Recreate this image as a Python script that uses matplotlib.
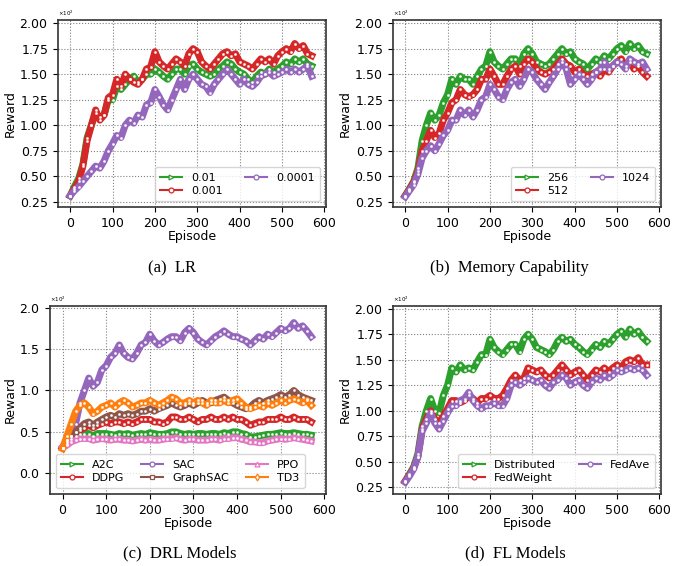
import matplotlib
matplotlib.use("Agg")
import matplotlib.pyplot as plt
import numpy as np
from matplotlib.ticker import ScalarFormatter

episodes = list(range(0, 580, 10))

# (a) LR
lr_labels = ["0.01", "0.001", "0.0001"]
lr_001 = [31, 40, 48, 62, 88, 100, 112, 108, 110, 125, 125, 138, 135, 140, 145, 148, 142, 145, 150, 150,
          155, 152, 148, 145, 150, 155, 155, 150, 158, 160, 155, 152, 150, 148, 150, 155, 158, 162, 160, 155,
          152, 150, 145, 142, 148, 152, 150, 155, 152, 155, 158, 162, 160, 165, 162, 165, 160, 158]
lr_0001 = [31, 38, 45, 60, 85, 100, 115, 105, 110, 127, 130, 145, 138, 150, 145, 142, 140, 145, 155, 157,
           172, 162, 158, 155, 160, 165, 162, 158, 170, 175, 172, 162, 158, 155, 160, 165, 170, 172, 168, 170,
           162, 160, 158, 155, 160, 165, 162, 165, 160, 168, 172, 175, 172, 180, 175, 178, 170, 168]
lr_00001 = [31, 36, 40, 45, 50, 55, 60, 58, 65, 75, 82, 90, 88, 100, 105, 102, 110, 108, 120, 122,
            135, 128, 120, 115, 125, 135, 145, 135, 145, 150, 145, 140, 138, 132, 140, 145, 150, 155, 150, 145,
            140, 145, 140, 138, 142, 148, 150, 152, 148, 150, 152, 155, 152, 155, 152, 155, 158, 148]

# (b) Memory Capability
mem_labels = ["256", "512", "1024"]
mem_256 = [31, 38, 45, 58, 85, 100, 112, 105, 110, 122, 130, 145, 140, 148, 145, 145, 140, 148, 155, 158,
           172, 162, 158, 155, 160, 165, 165, 158, 170, 175, 170, 162, 160, 158, 160, 165, 170, 175, 170, 172,
           165, 162, 160, 155, 160, 165, 162, 168, 165, 170, 175, 178, 172, 180, 175, 178, 172, 170]
mem_512 = [31, 37, 44, 55, 75, 85, 95, 88, 92, 105, 112, 122, 125, 135, 130, 128, 130, 135, 145, 145,
           155, 148, 140, 140, 148, 155, 158, 150, 160, 165, 162, 155, 152, 150, 152, 155, 160, 165, 160, 158,
           152, 155, 150, 148, 150, 152, 148, 155, 152, 158, 162, 165, 158, 162, 155, 158, 152, 148]
mem_1024 = [30, 36, 42, 52, 68, 75, 80, 75, 82, 90, 95, 105, 105, 115, 110, 115, 108, 115, 125, 128,
            140, 135, 128, 125, 135, 142, 145, 138, 145, 155, 152, 145, 140, 135, 142, 148, 155, 162, 155, 140,
            145, 150, 145, 140, 145, 152, 155, 162, 155, 158, 162, 160, 155, 165, 162, 160, 162, 155]

# (c) DRL Models
drl_labels = ["A2C", "DDPG", "SAC", "GraphSAC", "PPO", "TD3"]
drl_a2c = [31, 38, 42, 45, 48, 48, 48, 45, 48, 48, 48, 47, 46, 48, 47, 48, 46, 47, 48, 47,
           49, 48, 47, 47, 48, 50, 50, 48, 47, 48, 47, 48, 48, 47, 48, 48, 47, 49, 48, 50,
           50, 48, 47, 44, 44, 45, 46, 47, 47, 48, 49, 48, 48, 49, 48, 47, 47, 46]
drl_ddpg = [31, 40, 45, 50, 52, 55, 58, 55, 58, 60, 62, 60, 62, 62, 60, 62, 60, 62, 65, 65,
            65, 62, 62, 60, 62, 68, 68, 65, 65, 68, 65, 62, 65, 65, 68, 65, 65, 68, 65, 68,
            65, 65, 62, 58, 60, 62, 62, 65, 65, 65, 68, 65, 65, 68, 65, 65, 65, 62]
drl_sac = [31, 35, 45, 60, 85, 100, 115, 105, 110, 125, 130, 140, 145, 155, 145, 140, 138, 145, 155, 158,
           168, 160, 155, 158, 162, 165, 165, 160, 170, 175, 170, 162, 158, 155, 160, 165, 168, 172, 168, 165,
           165, 162, 160, 155, 160, 165, 162, 168, 165, 170, 175, 172, 175, 182, 175, 178, 172, 165]
drl_graphsac = [31, 40, 45, 50, 55, 60, 62, 58, 62, 65, 68, 70, 68, 72, 70, 72, 70, 72, 75, 75,
                78, 75, 78, 80, 82, 85, 82, 80, 82, 85, 82, 85, 88, 85, 85, 88, 90, 92, 88, 85,
                82, 80, 78, 80, 85, 88, 85, 88, 90, 92, 95, 92, 95, 100, 95, 92, 90, 88]
drl_ppo = [31, 34, 38, 40, 42, 42, 42, 40, 41, 42, 41, 40, 41, 41, 40, 40, 39, 40, 41, 40,
           41, 40, 40, 41, 42, 42, 43, 41, 40, 41, 41, 40, 40, 40, 41, 41, 40, 42, 42, 43,
           43, 41, 40, 38, 38, 37, 37, 39, 40, 41, 42, 41, 42, 43, 42, 41, 40, 39]
drl_td3 = [30, 45, 60, 75, 82, 85, 80, 72, 75, 80, 82, 85, 80, 85, 88, 85, 80, 82, 85, 85,
           88, 85, 82, 85, 88, 92, 90, 85, 85, 88, 85, 88, 85, 82, 88, 85, 85, 88, 85, 88,
           90, 85, 80, 78, 80, 82, 80, 85, 82, 85, 88, 85, 88, 90, 88, 85, 88, 82]

# (d) FL Models
fl_labels = ["Distributed", "FedWeight", "FedAve"]
fl_dist = [31, 38, 45, 58, 85, 100, 112, 100, 98, 115, 125, 142, 138, 145, 140, 142, 140, 148, 155, 155,
           170, 162, 158, 155, 160, 165, 165, 158, 170, 175, 170, 162, 160, 158, 155, 160, 168, 172, 168, 170,
           165, 162, 158, 155, 160, 165, 162, 168, 165, 170, 175, 178, 172, 180, 175, 178, 172, 168]
fl_fedweight = [31, 37, 44, 55, 82, 92, 100, 92, 88, 95, 102, 110, 110, 108, 110, 115, 112, 108, 112, 112,
                115, 112, 112, 115, 122, 130, 135, 130, 132, 142, 140, 138, 140, 135, 132, 135, 140, 145, 140, 135,
                138, 140, 135, 130, 135, 140, 138, 142, 138, 142, 145, 142, 148, 150, 148, 152, 145, 145]
fl_fedave = [30, 36, 43, 55, 80, 88, 98, 88, 82, 90, 98, 105, 105, 110, 112, 118, 110, 105, 102, 105,
             105, 108, 105, 105, 112, 125, 128, 125, 128, 132, 130, 128, 130, 125, 122, 128, 130, 135, 132, 125,
             128, 130, 125, 122, 128, 132, 130, 135, 132, 135, 140, 138, 140, 142, 140, 142, 140, 135]

C_GREEN, C_RED, C_PURPLE = "#2ca02c", "#d62728", "#9467bd"
C_BROWN, C_PINK, C_ORANGE = "#8c564b", "#e377c2", "#ff7f0e"

plt.rcParams['font.family'] = ['DejaVu Sans']

fig = plt.figure(figsize=(6.73, 5.66), dpi=100)
W, H = 673, 566

def make_ax(l, r, t, b):
    return fig.add_axes([l / W, 1 - b / H, (r - l) / W, (b - t) / H])

ax_a = make_ax(58, 326, 20, 207)
ax_b = make_ax(393, 661, 20, 207)
ax_c = make_ax(50, 326, 306, 494)
ax_d = make_ax(393, 661, 306, 494)

def draw(ax, series, labels, colors, markers, ylim, yticks, legloc, ncol, colsp):
    handles = []
    for s, lab, c, m in zip(series, labels, colors, markers):
        ax.plot(episodes, s, color=c, lw=5.0, solid_joinstyle="round", zorder=2)
        ax.plot(episodes, s, ls="none", marker="o", ms=1.7, mfc="white", mec="white",
                mew=0.2, zorder=2.1)
        h, = ax.plot([], [], color=c, lw=1.5, marker=m, ms=3.5, mfc="white", mec=c,
                     mew=0.9, label=lab)
        handles.append(h)
    ax.set_xlim(-28.75, 603.75)
    ax.set_ylim(*ylim)
    ax.set_xticks([0, 100, 200, 300, 400, 500, 600])
    ax.set_yticks(yticks)
    fmt = ScalarFormatter(useMathText=True)
    fmt.set_powerlimits((2, 2))
    ax.yaxis.set_major_formatter(fmt)
    ax.yaxis.get_offset_text().set_fontsize(4)
    ax.tick_params(labelsize=9)
    ax.grid(True, linestyle=":", color="gray", lw=0.8)
    ax.set_xlabel("Episode", fontsize=9, labelpad=0)
    ax.set_ylabel("Reward", fontsize=9, labelpad=2)
    for sp in ax.spines.values():
        sp.set_linewidth(1.2)
        sp.set_color("#333333")
    ax.legend(handles=handles, loc=legloc, ncol=ncol, fontsize=8, handlelength=2.0,
              columnspacing=colsp, borderpad=0.5, labelspacing=0.3)

draw(ax_a, [lr_001, lr_0001, lr_00001], lr_labels, [C_GREEN, C_RED, C_PURPLE], [">", "o", "o"],
     (20, 203), [25, 50, 75, 100, 125, 150, 175, 200], "lower right", 2, 2.0)
draw(ax_b, [mem_256, mem_512, mem_1024], mem_labels, [C_GREEN, C_RED, C_PURPLE], [">", "o", "o"],
     (20, 203), [25, 50, 75, 100, 125, 150, 175, 200], "lower right", 2, 2.0)
draw(ax_c, [drl_a2c, drl_ddpg, drl_sac, drl_graphsac, drl_ppo, drl_td3], drl_labels,
     [C_GREEN, C_RED, C_PURPLE, C_BROWN, C_PINK, C_ORANGE], [">", "o", "o", "s", "^", "d"],
     (-25, 202), [0, 50, 100, 150, 200], "lower left", 3, 1.5)
draw(ax_d, [fl_dist, fl_fedweight, fl_fedave], fl_labels, [C_GREEN, C_RED, C_PURPLE], [">", "o", "o"],
     (18.5, 202.6), [25, 50, 75, 100, 125, 150, 175, 200], "lower right", 2, 2.0)

cap_font = dict(fontsize=12, family=["Liberation Serif", "DejaVu Serif"], ha="center", va="center")
fig.text(172 / W, 1 - 268 / H, "(a)  LR", **cap_font)
fig.text(509 / W, 1 - 268 / H, "(b)  Memory Capability", **cap_font)
fig.text(180 / W, 1 - 553 / H, "(c)  DRL Models", **cap_font)
fig.text(515 / W, 1 - 553 / H, "(d)  FL Models", **cap_font)

fig.savefig("out.png", dpi=100)
